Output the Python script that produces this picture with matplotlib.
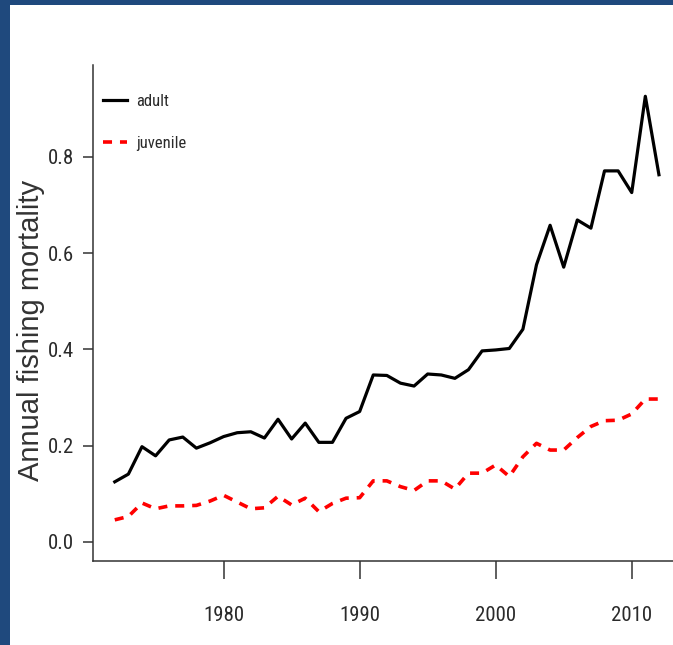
import matplotlib
matplotlib.use("Agg")
import matplotlib.pyplot as plt
from matplotlib.patches import Rectangle

years = list(range(1972, 2013))
adult = [0.125, 0.141, 0.198, 0.179, 0.212, 0.218, 0.195, 0.206, 0.219, 0.227,
         0.229, 0.216, 0.255, 0.214, 0.247, 0.207, 0.207, 0.257, 0.271, 0.347,
         0.346, 0.330, 0.324, 0.349, 0.347, 0.340, 0.358, 0.397, 0.399, 0.402,
         0.442, 0.576, 0.658, 0.571, 0.669, 0.652, 0.771, 0.771, 0.726, 0.926,
         0.763]
juvenile = [0.046, 0.053, 0.081, 0.069, 0.075, 0.075, 0.076, 0.085, 0.097, 0.083,
            0.069, 0.071, 0.095, 0.077, 0.091, 0.063, 0.080, 0.091, 0.092, 0.127,
            0.127, 0.115, 0.107, 0.127, 0.127, 0.110, 0.143, 0.143, 0.160, 0.136,
            0.177, 0.205, 0.191, 0.191, 0.217, 0.240, 0.252, 0.253, 0.266, 0.297,
            0.297]
xticks = [1980, 1990, 2000, 2010]
yticks = [0.0, 0.2, 0.4, 0.6, 0.8]
ytick_labels = ["0.0", "0.2", "0.4", "0.6", "0.8"]
series_labels = ["adult", "juvenile"]
ylabel = "Annual fishing mortality"

narrow = ["Roboto Condensed", "Liberation Sans Narrow", "Liberation Sans", "DejaVu Sans"]
txt_color = "#2a2a2a"
W, H = 673, 645

fig = plt.figure(figsize=(W / 100, H / 100), dpi=100)
fig.patch.set_facecolor("white")

# blue frame
blue = "#1F497D"
fig.patches.append(Rectangle((0, 0), 10 / W, 1, transform=fig.transFigure,
                             facecolor=blue, edgecolor="none", zorder=0))
fig.patches.append(Rectangle((0, 1 - 4.5 / H), 1, 4.5 / H, transform=fig.transFigure,
                             facecolor=blue, edgecolor="none", zorder=0))

ax = fig.add_axes([93 / W, (H - 561) / H, (680.7 - 93) / W, (561 - 65) / H])
ax.set_facecolor("none")

ax.plot(years, adult, color="black", lw=2.3, label=series_labels[0],
        solid_joinstyle="round")
ax.plot(years, juvenile, color="#ff0000", lw=2.6, dashes=(2.5, 2.2),
        label=series_labels[1])

ax.set_xlim(1970.4, 2013.6)
ax.set_ylim(-0.0395, 0.991)

for s in ["top", "right"]:
    ax.spines[s].set_visible(False)
for s in ["left", "bottom"]:
    ax.spines[s].set_color("#333333")
    ax.spines[s].set_linewidth(1.1)

ax.set_xticks(xticks)
ax.set_xticklabels([str(x) for x in xticks], fontfamily=narrow, fontsize=15,
                   color=txt_color)
ax.set_yticks(yticks)
ax.set_yticklabels(ytick_labels, fontfamily=narrow, fontsize=15, color=txt_color)
ax.tick_params(axis="x", length=13, width=1.1, color="#333333", pad=19.5)
ax.tick_params(axis="y", length=7, width=1.1, color="#333333", pad=6.5)

fig.text(31 / W, 1 - 330 / H, ylabel, rotation=90, ha="center", va="center",
         fontsize=21, color="#333333", fontfamily=["Liberation Sans", "DejaVu Sans"])

leg = ax.legend(loc="upper left", bbox_to_anchor=(103 / W, 1 - 94 / H),
                bbox_transform=fig.transFigure, frameon=False, borderpad=0,
                borderaxespad=0, handlelength=1.45, handletextpad=0.55,
                labelspacing=1.6, prop={"family": narrow, "size": 12})
for t in leg.get_texts():
    t.set_color(txt_color)

fig.savefig("out.png", dpi=100, facecolor="white")
